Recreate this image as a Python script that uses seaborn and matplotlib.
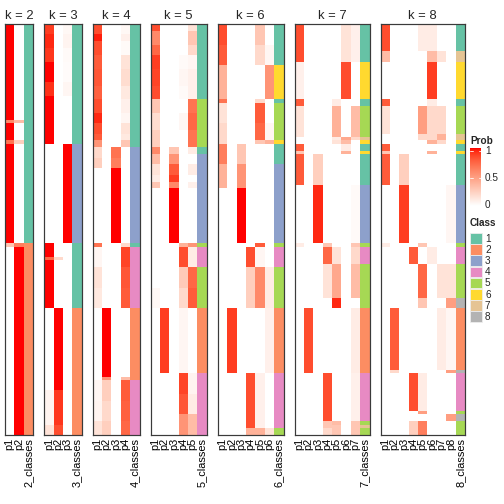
import numpy as np
import pandas as pd
import matplotlib
matplotlib.use("Agg")
import matplotlib.pyplot as plt
import seaborn as sns
from matplotlib.colors import ListedColormap
from matplotlib.patches import Rectangle

sns.set_theme(style="white")
plt.rcParams['font.family'] = ['Liberation Sans', 'DejaVu Sans']

# ---------------- data: (n_rows, class, {column: probability}) ----------------
seg_k2 = [
    (28, 1, {1: 1.0}), (1, 1, {1: 0.6, 2: 0.35}), (5, 1, {1: 1.0}),
    (1, 1, {1: 0.7, 2: 0.25}), (29, 1, {1: 1.0}), (1, 2, {1: 0.3, 2: 0.65}),
    (55, 2, {2: 1.0}),
]
seg_k3 = [
    (3, 1, {1: 0.9, 3: 0.04}), (4, 1, {1: 0.95, 3: 0.06}), (4, 1, {1: 0.92, 3: 0.03}),
    (6, 1, {1: 1.0, 3: 0.02}), (4, 1, {1: 0.93, 3: 0.05}), (14, 1, {1: 1.0}),
    (29, 3, {3: 1.0}), (4, 1, {1: 1.0}), (1, 1, {1: 0.75, 2: 0.2}), (14, 1, {1: 1.0}),
    (24, 2, {2: 1.0}), (10, 2, {2: 0.92, 1: 0.06}), (3, 2, {2: 0.85, 1: 0.15}),
]
seg_k4 = [
    (3, 1, {1: 0.85, 4: 0.04}), (2, 1, {1: 0.97, 4: 0.08}), (4, 1, {1: 0.85, 4: 0.03}),
    (4, 1, {1: 0.8, 4: 0.15}), (5, 1, {1: 0.82, 4: 0.18}), (4, 1, {1: 0.78, 4: 0.12}),
    (4, 1, {1: 0.85, 4: 0.08}), (3, 1, {1: 0.95, 4: 0.05}), (3, 1, {1: 0.85, 4: 0.15}),
    (2, 1, {1: 0.8, 4: 0.12}), (2, 1, {1: 0.55, 4: 0.3}),
    (3, 3, {1: 0.2, 3: 0.7}), (3, 3, {1: 0.25, 3: 0.65}), (22, 3, {3: 1.0}),
    (1, 1, {1: 0.7, 4: 0.2}), (6, 4, {4: 0.88, 1: 0.05}), (6, 4, {4: 0.82, 1: 0.15}),
    (6, 4, {4: 0.8, 1: 0.12}),
    (20, 2, {2: 1.0}), (1, 2, {2: 0.55, 4: 0.35}),
    (6, 4, {4: 0.8, 2: 0.25, 1: 0.05}), (6, 4, {4: 0.78, 2: 0.2, 1: 0.06}),
    (4, 4, {4: 0.75, 2: 0.25, 1: 0.15}),
]
seg_k5 = [
    (2, 1, {1: 0.85, 5: 0.15}), (4, 1, {1: 0.6, 5: 0.3}), (3, 1, {1: 0.75, 5: 0.2}),
    (4, 1, {1: 0.9, 5: 0.05, 4: 0.03}), (5, 1, {1: 0.88, 5: 0.08, 4: 0.05}),
    (4, 1, {1: 0.85, 5: 0.08, 4: 0.03}),
    (4, 5, {5: 0.7, 1: 0.3}), (5, 5, {5: 0.75, 1: 0.18, 4: 0.05}), (5, 5, {5: 0.7, 1: 0.25}),
    (2, 1, {1: 0.6, 3: 0.3, 5: 0.1}),
    (3, 3, {1: 0.35, 3: 0.55}), (3, 3, {1: 0.15, 3: 0.8, 5: 0.1}), (2, 3, {1: 0.1, 3: 0.9}),
    (2, 3, {1: 0.3, 3: 0.6, 5: 0.08}), (16, 3, {3: 1.0}),
    (1, 5, {4: 0.4, 5: 0.55}), (6, 4, {4: 0.85, 5: 0.1}),
    (6, 5, {5: 0.75, 4: 0.28}), (6, 5, {5: 0.8, 4: 0.2, 1: 0.04}),
    (19, 2, {2: 0.9, 4: 0.05}), (6, 4, {4: 0.88, 5: 0.06}), (6, 4, {4: 0.82, 5: 0.1}),
    (6, 4, {4: 0.55, 5: 0.35}),
]
seg_k6 = [
    (6, 1, {1: 0.85, 5: 0.3}), (6, 1, {1: 0.8, 5: 0.2, 6: 0.05}), (10, 6, {1: 0.4, 6: 0.55}),
    (1, 1, {1: 0.7, 5: 0.2}),
    (6, 5, {5: 0.8, 1: 0.15}), (5, 5, {5: 0.75, 1: 0.2, 6: 0.05}),
    (1, 6, {6: 0.4, 5: 0.3, 1: 0.2}),
    (6, 1, {1: 0.65, 3: 0.3}), (7, 3, {1: 0.4, 3: 0.55}), (16, 3, {3: 1.0}),
    (1, 5, {5: 0.8}), (6, 4, {4: 0.85, 5: 0.05}), (12, 5, {5: 0.6, 4: 0.25, 6: 0.1}),
    (19, 2, {2: 0.9, 6: 0.08}), (16, 4, {4: 0.85, 5: 0.08}), (2, 5, {4: 0.4, 5: 0.4, 6: 0.15}),
]
seg_k7 = [
    (11, 1, {1: 0.85, 6: 0.15, 7: 0.08}), (11, 6, {6: 0.85, 1: 0.08}), (2, 1, {1: 0.8, 5: 0.1}),
    (9, 5, {5: 0.4, 7: 0.35, 1: 0.15}), (1, 7, {6: 0.45, 7: 0.2, 5: 0.1}), (1, 6, {6: 0.35, 5: 0.15}),
    (2, 1, {1: 0.8, 6: 0.1}), (1, 6, {1: 0.3, 6: 0.4}), (9, 1, {1: 0.8, 3: 0.25}),
    (17, 3, {3: 0.95, 7: 0.03}), (1, 5, {1: 0.1, 4: 0.3, 7: 0.3}),
    (5, 4, {4: 0.75, 5: 0.15, 7: 0.2}), (10, 5, {5: 0.45, 7: 0.35, 4: 0.15}), (3, 5, {5: 0.95}),
    (19, 2, {2: 0.85, 7: 0.1}), (14, 4, {4: 0.85, 7: 0.08}),
    (1, 5, {4: 0.3, 5: 0.35, 7: 0.3}), (1, 7, {4: 0.3, 5: 0.3, 7: 0.3}), (2, 5, {4: 0.2, 5: 0.3, 7: 0.3}),
]
seg_k8 = [
    (8, 1, {1: 0.85, 5: 0.1, 6: 0.1}), (3, 7, {1: 0.35, 6: 0.35, 7: 0.15}), (11, 6, {6: 0.9}),
    (2, 1, {1: 0.8, 6: 0.1}), (8, 5, {5: 0.5, 6: 0.2, 7: 0.2, 1: 0.15}),
    (2, 7, {5: 0.2, 6: 0.2, 7: 0.4}), (1, 6, {6: 0.4, 7: 0.2}), (2, 1, {1: 0.8}),
    (1, 6, {6: 0.4, 1: 0.3}), (9, 1, {1: 0.8, 3: 0.25}), (17, 3, {3: 0.9, 8: 0.05}),
    (1, 5, {5: 0.3, 1: 0.1}), (5, 4, {4: 0.8, 6: 0.1}), (10, 5, {5: 0.75, 7: 0.15, 8: 0.15}),
    (3, 8, {8: 0.5, 5: 0.3}), (18, 2, {2: 0.8, 7: 0.1, 8: 0.05}), (1, 8, {8: 0.5, 2: 0.2}),
    (11, 4, {4: 0.85, 5: 0.1}), (1, 5, {5: 0.5}), (2, 8, {8: 0.5}), (4, 5, {5: 0.65, 4: 0.25}),
]
segments = {2: seg_k2, 3: seg_k3, 4: seg_k4, 5: seg_k5, 6: seg_k6, 7: seg_k7, 8: seg_k8}
ks = [2, 3, 4, 5, 6, 7, 8]
class_labels = ["1", "2", "3", "4", "5", "6", "7", "8"]
prob_ticks = [1, 0.5, 0]

# ---------------- colours ----------------
def srgb_to_lab(rgb):
    c = np.asarray(rgb, float)
    lin = np.where(c <= 0.04045, c / 12.92, ((c + 0.055) / 1.055) ** 2.4)
    M = np.array([[0.4124, 0.3576, 0.1805], [0.2126, 0.7152, 0.0722], [0.0193, 0.1192, 0.9505]])
    xyz = M @ lin / np.array([0.95047, 1.0, 1.08883])
    f = np.where(xyz > 0.008856, np.cbrt(xyz), 7.787 * xyz + 16 / 116)
    return np.array([116 * f[1] - 16, 500 * (f[0] - f[1]), 200 * (f[1] - f[2])])

def lab_to_srgb(lab):
    L, a, b = lab
    fy = (L + 16) / 116
    fx = fy + a / 500
    fz = fy - b / 200
    f = np.array([fx, fy, fz])
    xyz = np.where(f ** 3 > 0.008856, f ** 3, (f - 16 / 116) / 7.787) * np.array([0.95047, 1.0, 1.08883])
    Mi = np.array([[3.2406, -1.5372, -0.4986], [-0.9689, 1.8758, 0.0415], [0.0557, -0.2040, 1.0570]])
    lin = np.clip(Mi @ xyz, 0, 1)
    c = np.where(lin <= 0.0031308, 12.92 * lin, 1.055 * lin ** (1 / 2.4) - 0.055)
    return np.clip(c, 0, 1)

lw_, lr_ = srgb_to_lab([1, 1, 1]), srgb_to_lab([1, 0, 0])
ramp = [lab_to_srgb(lw_ + (lr_ - lw_) * t) for t in np.linspace(0, 1, 256)]
prob_cmap = ListedColormap(ramp)
set2 = sns.color_palette("Set2", 8)
class_cmap = ListedColormap(set2)

# ---------------- layout ----------------
W = H = 504
fig = plt.figure(figsize=(7, 7), dpi=72)
cw, gap, x0, top, bottom = 9.38, 11.0, 5.0, 24.0, 435.0

x = x0
for k in ks:
    segs = segments[k]
    n = sum(s[0] for s in segs)
    probs = np.zeros((n, k))
    cls = np.zeros(n)
    r = 0
    for nr, c, pd_ in segs:
        for col, v in pd_.items():
            probs[r:r + nr, col - 1] = v
        cls[r:r + nr] = c
        r += nr
    cols = [f"p{i}" for i in range(1, k + 1)] + [f"{k}_classes"]
    full_p = np.column_stack([probs, np.full(n, np.nan)])
    full_c = np.column_stack([np.full((n, k), np.nan), cls])
    dfp = pd.DataFrame(full_p, columns=cols)
    dfc = pd.DataFrame(full_c, columns=cols)
    width = (k + 1) * cw
    ax = fig.add_axes([x / W, 1 - bottom / H, width / W, (bottom - top) / H])
    sns.heatmap(dfp, ax=ax, cmap=prob_cmap, vmin=0, vmax=1, cbar=False,
                xticklabels=True, yticklabels=False)
    sns.heatmap(dfc, ax=ax, cmap=class_cmap, vmin=0.5, vmax=8.5, cbar=False,
                xticklabels=True, yticklabels=False)
    ax.set_xticklabels(cols, rotation=90, fontsize=11, color="black")
    ax.tick_params(axis="x", length=0, pad=3)
    ax.set_ylabel("")
    ax.set_title(f"k = {k}", fontsize=13, pad=5)
    for sp in ax.spines.values():
        sp.set_visible(True)
        sp.set_color("#3a3a3a")
        sp.set_linewidth(1.2)
    x += width + gap

# ---------------- legends ----------------
lax = fig.add_axes([0, 0, 1, 1], facecolor="none")
lax.set_xlim(0, W)
lax.set_ylim(H, 0)
lax.axis("off")
lax.text(470, 141, "Prob", fontsize=10, fontweight="bold", va="center", ha="left")
grad = np.linspace(1, 0, 100).reshape(-1, 1)
lax.imshow(grad, cmap=prob_cmap, vmin=0, vmax=1, aspect="auto",
           extent=(470, 481, 206, 148), zorder=2)
for v in prob_ticks:
    yy = 205 - v * 54
    lax.plot([470, 472.5], [yy, yy], color="white", lw=0.8, zorder=3)
    lax.plot([478.5, 481], [yy, yy], color="white", lw=0.8, zorder=3)
    lax.text(485, yy, f"{v:g}", fontsize=10, va="center", ha="left")
lax.text(470, 223, "Class", fontsize=10, fontweight="bold", va="center", ha="left")
for i, lab in enumerate(class_labels):
    yy = 233 + i * 11.2
    lax.add_patch(Rectangle((470, yy), 11.5, 10.5, facecolor=set2[i], edgecolor="#eeeeee", lw=0.8))
    lax.text(485, yy + 5.5, lab, fontsize=10, va="center", ha="left")

fig.savefig("out.png", dpi=72)
